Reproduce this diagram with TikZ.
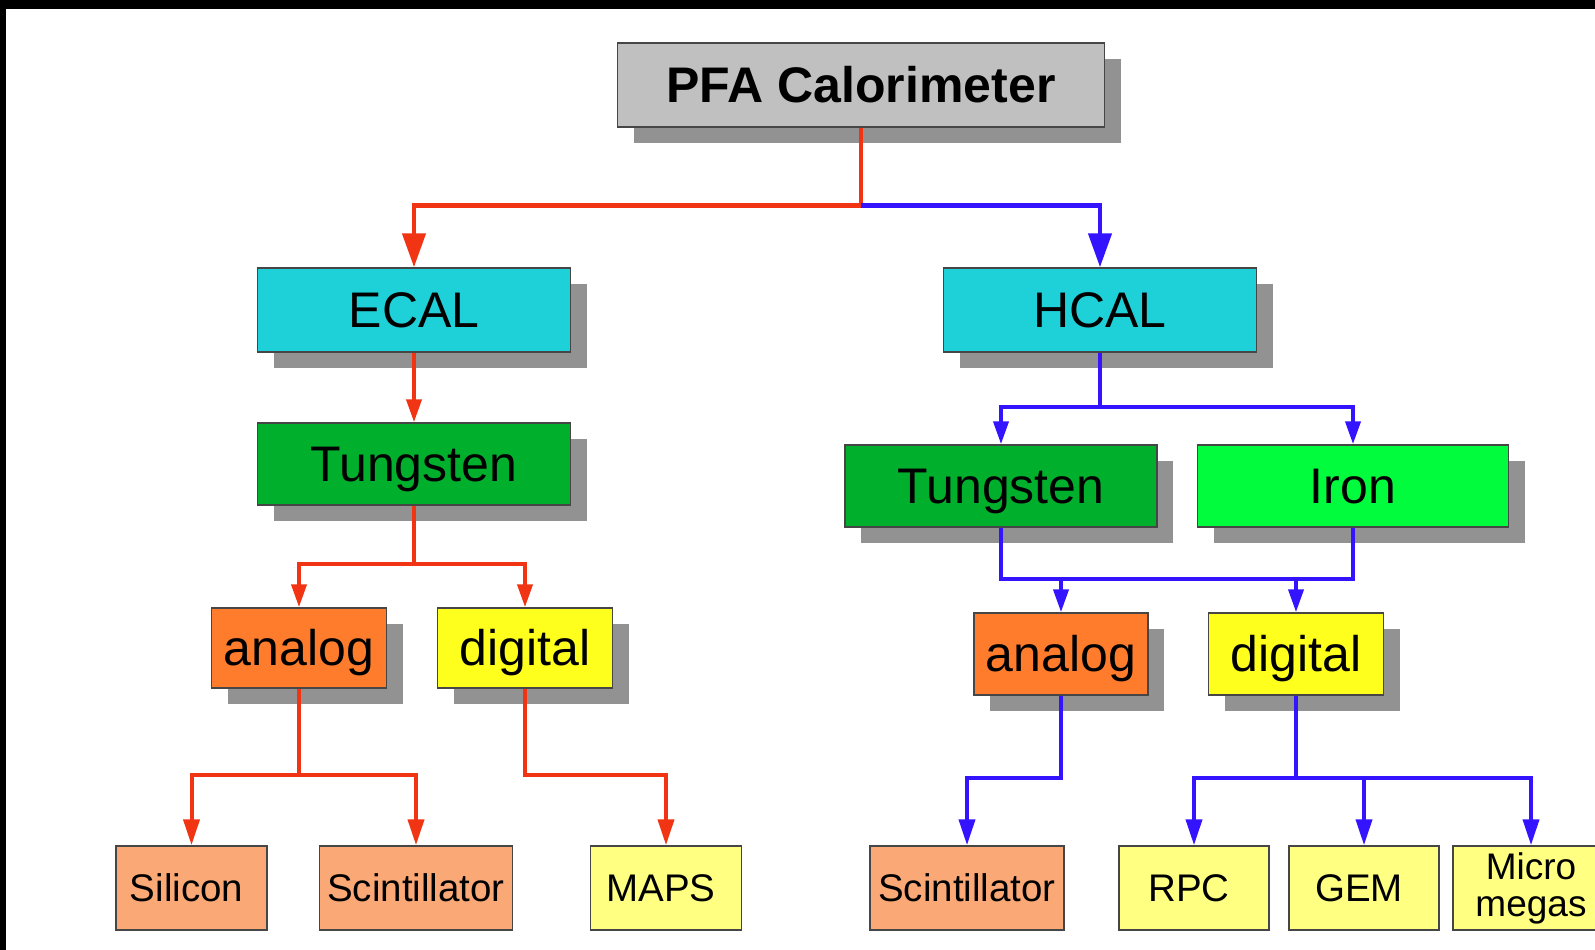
\documentclass[tikz,border=0pt]{standalone}
\usepackage{fontspec}
\setmainfont{Liberation Sans}
\usetikzlibrary{arrows.meta,shadows}
\definecolor{bordergray}{RGB}{70,70,70}
\definecolor{shadowgray}{RGB}{146,146,146}
\definecolor{pfagray}{RGB}{192,192,192}
\definecolor{calcyan}{RGB}{30,208,216}
\definecolor{tungreen}{RGB}{0,176,44}
\definecolor{irongreen}{RGB}{0,252,60}
\definecolor{anaorange}{RGB}{255,124,44}
\definecolor{digyellow}{RGB}{255,255,30}
\definecolor{lightorange}{RGB}{250,168,118}
\definecolor{lightyellow}{RGB}{255,255,130}
\definecolor{linered}{RGB}{240,52,20}
\definecolor{lineblue}{RGB}{52,20,255}
\begin{document}
\begin{tikzpicture}[x=1pt,y=-1pt,
  box/.style={draw=bordergray, line width=1.5pt, inner sep=0pt, align=center,
    font=\fontsize{50}{58}\selectfont, text height=45pt, text depth=10pt},
  shad/.style={drop shadow={shadow xshift=16pt, shadow yshift=-16pt, fill=shadowgray, opacity=1}},
  smallbox/.style={box, font=\fontsize{38.5}{42}\selectfont, text height=35pt, text depth=8pt,
    minimum height=84pt},
  lshift/.style={execute at begin node={\hspace*{-10pt}}},
  rl/.style={draw=linered, line width=4pt},
  bl/.style={draw=lineblue, line width=4pt},
  bigtip/.style={-{Triangle[width=23pt,length=34pt]}},
  midtip/.style={-{Triangle[width=15pt,length=23pt]}},
  lowtip/.style={-{Triangle[width=16pt,length=26pt]}}
]
\useasboundingbox (0,0) rectangle (1595,950);
\fill[white] (0,0) rectangle (1595,950);
\fill[black] (0,0) rectangle (1595,9);
\fill[black] (0,0) rectangle (6,950);

% top
\node[box, shad, fill=pfagray, minimum width=487pt, minimum height=84pt,
  font=\fontsize{50}{58}\selectfont\bfseries] (pfa) at (861,85) {PFA Calorimeter};

\node[box, shad, fill=calcyan, minimum width=313pt, minimum height=84pt] (ecal) at (414,310) {ECAL};
\node[box, shad, fill=calcyan, minimum width=313pt, minimum height=84pt] (hcal) at (1100,310) {HCAL};

\node[box, shad, fill=tungreen, minimum width=313pt, minimum height=82pt] (etung) at (414,464) {Tungsten};
\node[box, shad, fill=tungreen, minimum width=312pt, minimum height=82pt] (htung) at (1001,486) {Tungsten};
\node[box, shad, fill=irongreen, minimum width=311pt, minimum height=82pt] (iron) at (1353,486) {Iron};

\node[box, shad, fill=anaorange, minimum width=175pt, minimum height=80pt] (eana) at (299,648) {analog};
\node[box, shad, fill=digyellow, minimum width=175pt, minimum height=80pt] (edig) at (525,648) {digital};
\node[box, shad, fill=anaorange, minimum width=174pt, minimum height=82pt] (hana) at (1061,654) {analog};
\node[box, shad, fill=digyellow, minimum width=175pt, minimum height=82pt] (hdig) at (1296,654) {digital};

\node[smallbox, lshift, fill=lightorange, minimum width=151pt] (sil) at (191.5,888) {Silicon};
\node[smallbox, fill=lightorange, minimum width=193pt] (escint) at (416,888) {Scintillator};
\node[smallbox, lshift, fill=lightyellow, minimum width=151pt] (maps) at (666,888) {MAPS};
\node[smallbox, fill=lightorange, minimum width=194pt] (hscint) at (967,888) {Scintillator};
\node[smallbox, lshift, fill=lightyellow, minimum width=150pt] (rpc) at (1194,888) {RPC};
\node[smallbox, lshift, fill=lightyellow, minimum width=150pt] (gem) at (1364,888) {GEM};
\node[draw=bordergray, line width=1.5pt, inner sep=0pt, fill=lightyellow, minimum width=156pt,
  minimum height=84pt, align=center, font=\fontsize{37}{37}\selectfont] (micro) at (1531,888) {Micro\\megas};

% connectors
\coordinate (j0) at (861,205.5);
\draw[rl, line width=4.5pt, bigtip] (pfa.south) -- (j0) -| (ecal.north);
\draw[bl, line width=4.5pt, bigtip] (j0) -| (hcal.north);

\draw[rl, midtip] (ecal.south) -- (etung.north);

\coordinate (hs) at (1100,407);
\draw[bl, midtip] (hcal.south) -- (hs) -| (htung.north);
\draw[bl, midtip] (hs) -| (iron.north);

\coordinate (es) at (414,563.5);
\draw[rl, midtip] (etung.south) -- (es) -| (eana.north);
\draw[rl, midtip] (es) -| (edig.north);

\coordinate (hm1) at (1001,578.8);
\coordinate (hm2) at (1353,578.8);
\draw[bl] (htung.south) -- (hm1) -- (hm2) -- (iron.south);
\draw[bl, midtip] (hana.north |- hm1) -- (hana.north);
\draw[bl, midtip] (hdig.north |- hm1) -- (hdig.north);

\coordinate (ea) at (299,775);
\draw[rl, lowtip] (eana.south) -- (ea) -| (sil.north);
\draw[rl, lowtip] (ea) -| (escint.north);
\coordinate (ed) at (525,775);
\draw[rl, lowtip] (edig.south) -- (ed) -| (maps.north);

\coordinate (ha) at (1061,778);
\draw[bl, lowtip] (hana.south) -- (ha) -| (hscint.north);
\coordinate (hd) at (1296,778);
\draw[bl, lowtip] (hdig.south) -- (hd) -| (rpc.north);
\draw[bl, lowtip] (hd) -| (gem.north);
\draw[bl, lowtip] (hd) -| (micro.north);
\end{tikzpicture}
\end{document}
